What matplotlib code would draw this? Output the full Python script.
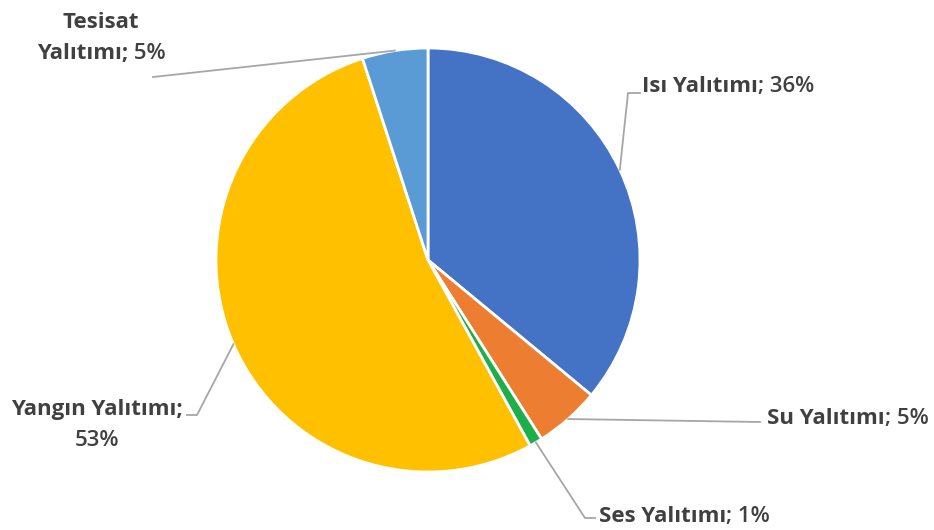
import numpy as np
import matplotlib
matplotlib.use("Agg")
import matplotlib.pyplot as plt
from matplotlib.offsetbox import TextArea, HPacker, VPacker, AnnotationBbox

# data
names = ["Isı Yalıtımı", "Su Yalıtımı", "Ses Yalıtımı", "Yangın Yalıtımı", "Tesisat Yalıtımı"]
values = [36, 5, 1, 53, 5]
colors = ["#4472C4", "#ED7D31", "#1FAF4A", "#FFC000", "#5B9BD5"]

W, H = 934, 530
CX, CY, R = 428, 260, 212  # pie centre / radius in pixels


def px(x, y):
    # pixel position -> data coords (radius = 1)
    return (x - CX) / R, (CY - y) / R


fig = plt.figure(figsize=(W / 100, H / 100), dpi=100)
ax = fig.add_axes([0, 0, 1, 1])
ax.axis("off")

wedges, _ = ax.pie(values, colors=colors, startangle=90, counterclock=False,
                   radius=1.0, center=(0, 0), frame=False,
                   wedgeprops=dict(edgecolor="white", linewidth=2))
ax.set_xlim(-CX / R, (W - CX) / R)
ax.set_ylim(-(H - CY) / R, CY / R)
ax.set_aspect("auto")

txt_col = "#404040"
fam = ["Open Sans", "DejaVu Sans"]
fs = 16


def label_box(lines):
    rows = []
    for parts in lines:
        items = [TextArea(t, textprops=dict(color=txt_col, fontsize=fs, family=fam,
                                            fontweight=w)) for t, w in parts]
        rows.append(HPacker(children=items, align="baseline", pad=0, sep=0))
    return VPacker(children=rows, align="center", pad=0, sep=7)


B, N = "bold", "semibold"
# label layout: text lines, label anchor (pixels), alignment, leader path (pixels)
layout = {
    0: ([[("Isı Yalıtımı", B), ("; 36%", N)]], (642, 86), (0, 0.5), [(628, 93), (640, 93)]),
    1: ([[("Su Yalıtımı", B), ("; 5%", N)]], (767, 418), (0, 0.5), [(760, 422)]),
    2: ([[("Ses Yalıtımı", B), ("; 1%", N)]], (599, 517), (0, 0.5), [(585, 518), (595, 518)]),
    3: ([[("Yangın Yalıtımı;", B)], [("53%", N)]], (97, 425), (0.5, 0.5), [(197, 415), (187, 415)]),
    4: ([[("Tesisat", B)], [("Yalıtımı;", B), (" 5%", N)]], (101, 38), (0.5, 0.5), [(153, 77)]),
}

for i, w in enumerate(wedges):
    ang = np.deg2rad((w.theta1 + w.theta2) / 2)
    sx, sy = np.cos(ang), np.sin(ang)
    lines, pos, align, path = layout[i]
    pts = [(sx, sy)] + [px(*p) for p in path]
    xs, ys = zip(*pts)
    ax.plot(xs, ys, color="#A6A6A6", lw=1.3, zorder=3)
    ab = AnnotationBbox(label_box(lines), px(*pos), box_alignment=align,
                        frameon=False, xycoords="data")
    ax.add_artist(ab)

fig.savefig("out.png", dpi=100, facecolor="white")
